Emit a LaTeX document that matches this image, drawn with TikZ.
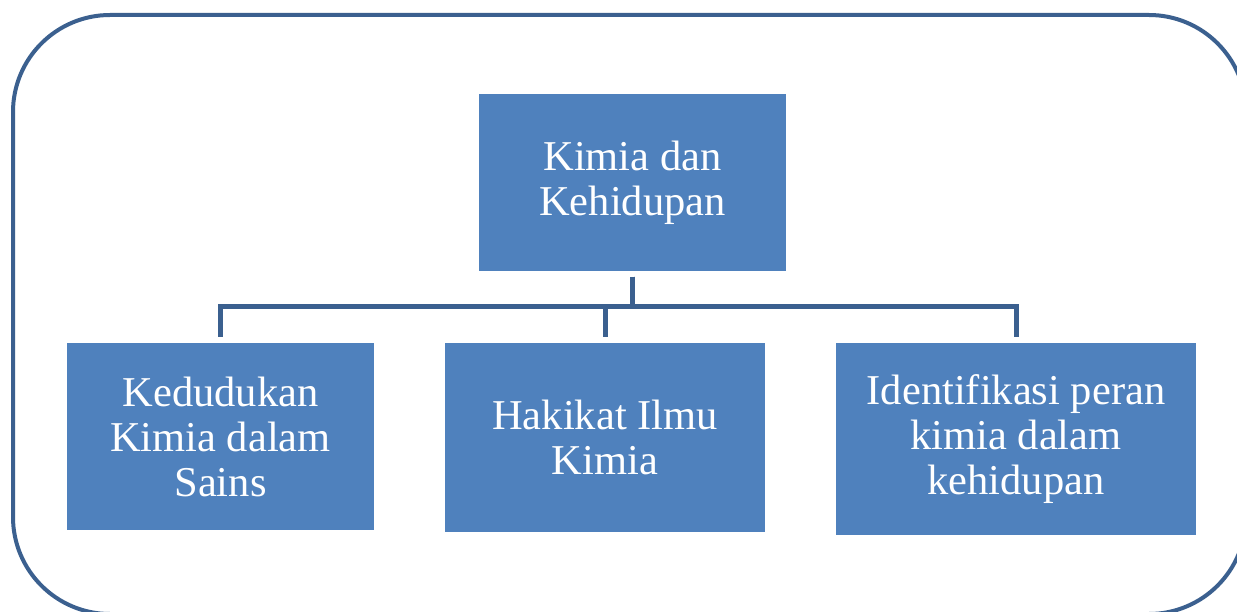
\documentclass[tikz,border=0pt]{standalone}
\usepackage{fontspec}
\setmainfont{Liberation Serif}
\definecolor{boxblue}{HTML}{4F81BD}
\definecolor{lineblue}{HTML}{3B608F}
\begin{document}
\begin{tikzpicture}[x=1pt,y=-1pt,
  topic/.style={rectangle, fill=boxblue, draw=none, text=white, align=center,
    inner sep=0pt, font=\fontsize{42.5}{45}\selectfont},
  conn/.style={draw=lineblue, line width=5pt, shorten <=5pt, shorten >=6pt}]
\useasboundingbox (0,0) rectangle (1237,612);
\fill[white] (0,0) rectangle (1237,612);
% frame around the chart
\draw[lineblue, line width=4pt, rounded corners=97pt] (13,15) rectangle (1246,614);
% boxes
\node[topic, minimum width=307pt, minimum height=177pt] (top) at (632.5,183) {Kimia dan\\Kehidupan};
\node[topic, minimum width=307pt, minimum height=187pt] (a) at (220.5,436.5) {Kedudukan\\Kimia dalam\\Sains};
\node[topic, minimum width=320pt, minimum height=189pt] (b) at (605,437.5) {Hakikat Ilmu\\Kimia};
\node[topic, minimum width=360pt, minimum height=192pt] (c) at (1016,439) {Identifikasi peran\\kimia dalam\\kehidupan};
% tree connectors
\draw[conn] (top.south) -- ++(0,35) -| (a.north);
\draw[conn] (top.south) -- ++(0,35) -| (b.north);
\draw[conn] (top.south) -- ++(0,35) -| (c.north);
\end{tikzpicture}
\end{document}
